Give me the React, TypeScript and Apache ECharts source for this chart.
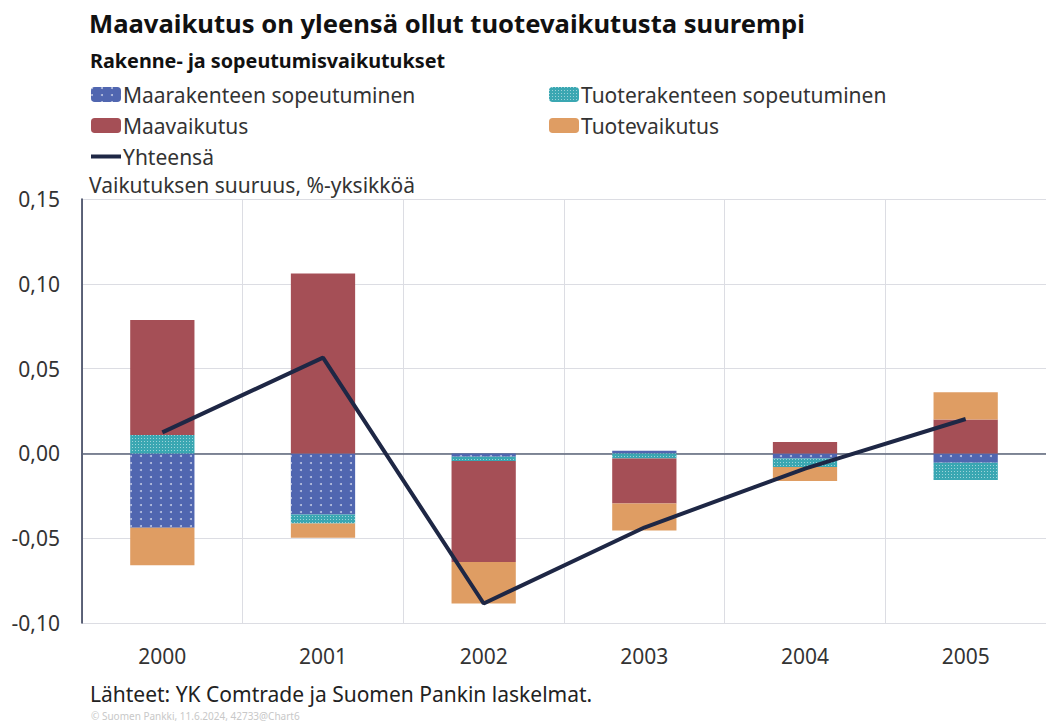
import React, { useEffect, useRef } from "react";
import * as echarts from "echarts";

const years = ["2000", "2001", "2002", "2003", "2004", "2005"];
const maarakenne = [-0.0438, -0.036, -0.002, 0.0015, -0.003, -0.0055];
const tuoterakenne = [0.0108, -0.0053, -0.0025, -0.003, -0.005, -0.0102];
const maavaikutus = [0.0678, 0.106, -0.0596, -0.0265, 0.0067, 0.02];
const tuotevaikutus = [-0.0222, -0.0084, -0.0244, -0.016, -0.0083, 0.0161];
const yhteensa = [0.0124, 0.0565, -0.0885, -0.0437, -0.009, 0.0203];

const names = [
  "Maarakenteen sopeutuminen",
  "Tuoterakenteen sopeutuminen",
  "Maavaikutus",
  "Tuotevaikutus",
  "Yhteensä",
];

const FONT = "'Noto Sans', 'Open Sans', sans-serif";

export default function App() {
  const ref = useRef<HTMLDivElement>(null);
  useEffect(() => {
    if (!ref.current) return;
    const chart = echarts.init(ref.current, null, { renderer: "svg" });
    const legendText = { fontFamily: FONT, fontSize: 21, color: "#333" };
    const mkLegend = (name: any, left: number, top: number, extra: any = {}) => ({
      data: [name],
      left,
      top,
      itemWidth: 30,
      itemHeight: 15,
      itemGap: 0,
      selectedMode: false,
      textStyle: { ...legendText, padding: [0, 0, 0, -3] },
      ...extra,
    });
    chart.setOption({
      animation: false,
      backgroundColor: "#ffffff",
      title: [
        {
          text: "Maavaikutus on yleensä ollut tuotevaikutusta suurempi",
          left: 84,
          top: 5,
          textStyle: { fontFamily: FONT, fontSize: 25.6, fontWeight: "bold", color: "#111" },
        },
        {
          text: "Rakenne- ja sopeutumisvaikutukset",
          left: 85,
          top: 45,
          textStyle: { fontFamily: FONT, fontSize: 19.8, fontWeight: "bold", color: "#111" },
        },
        {
          text: "Vaikutuksen suuruus, %-yksikköä",
          left: 84,
          top: 169,
          textStyle: { fontFamily: FONT, fontSize: 21, fontWeight: "normal", color: "#333" },
        },
        {
          text: "Lähteet: YK Comtrade ja Suomen Pankin laskelmat.",
          left: 85,
          top: 678,
          textStyle: { fontFamily: FONT, fontSize: 21, fontWeight: "normal", color: "#222" },
        },
        {
          text: "© Suomen Pankki, 11.6.2024, 42733@Chart6",
          left: 86,
          top: 706,
          textStyle: { fontFamily: FONT, fontSize: 10, fontWeight: "normal", color: "#c8c8c8" },
        },
      ],
      legend: [
        mkLegend(names[0], 86, 79),
        mkLegend(names[1], 544, 79),
        mkLegend(names[2], 86, 110),
        mkLegend(names[3], 544, 110),
        mkLegend({ name: names[4], icon: "rect" }, 86, 141, { itemHeight: 4 }),
      ],
      grid: { left: 82, right: -10, top: 199, bottom: 101, containLabel: false },
      xAxis: {
        type: "category",
        data: years,
        axisLine: { show: true, onZero: true, lineStyle: { color: "#5b6479", width: 1.5 } },
        axisTick: { show: false },
        splitLine: { show: true, lineStyle: { color: "#dcdde3", width: 1 } },
        axisLabel: {
          fontFamily: FONT,
          fontSize: 21,
          color: "#333",
          margin: 22,
        },
        position: "bottom",
      },
      yAxis: {
        type: "value",
        min: -0.1,
        max: 0.15,
        interval: 0.05,
        axisLine: { show: true, lineStyle: { color: "#2c3450", width: 1.5 } },
        axisTick: { show: false },
        splitLine: { show: true, lineStyle: { color: "#dcdde3", width: 1 } },
        axisLabel: {
          fontFamily: FONT,
          fontSize: 21,
          color: "#333",
          margin: 22,
          formatter: (v: number) => v.toFixed(2).replace(".", ","),
        },
      },
      series: [
        {
          name: names[0],
          type: "bar",
          stack: "s",
          data: maarakenne,
          barWidth: "40%",
          itemStyle: {
            color: "#5066b0",
            decal: {
              symbol: "circle",
              symbolSize: 1,
              color: "rgba(255,255,255,0.6)",
              dashArrayX: [[1.4, 7.5]],
              dashArrayY: [1.4, 5],
            },
          },
        },
        {
          name: names[1],
          type: "bar",
          stack: "s",
          data: tuoterakenne,
          itemStyle: {
            color: "#3aa7b2",
            decal: {
              symbol: "rect",
              symbolSize: 1,
              color: "rgba(255,255,255,0.5)",
              dashArrayX: [[1, 2]],
              dashArrayY: [1, 1.5],
            },
          },
        },
        {
          name: names[2],
          type: "bar",
          stack: "s",
          data: maavaikutus,
          itemStyle: { color: "#a54f56" },
        },
        {
          name: names[3],
          type: "bar",
          stack: "s",
          data: tuotevaikutus,
          itemStyle: { color: "#df9d63" },
        },
        {
          name: names[4],
          type: "line",
          data: yhteensa,
          symbol: "none",
          showSymbol: false,
          z: 10,
          lineStyle: { color: "#1e2745", width: 4 },
          itemStyle: { color: "#1e2745" },
        },
      ],
    });
    return () => chart.dispose();
  }, []);
  return (
    <div
      ref={ref}
      style={{ position: "fixed", left: 0, top: 0, width: 1046, height: 724, background: "#fff" }}
    />
  );
}
